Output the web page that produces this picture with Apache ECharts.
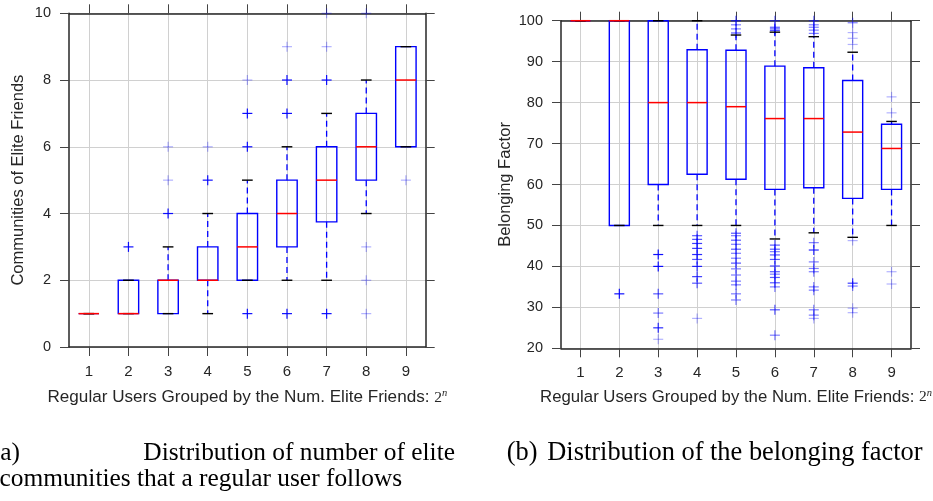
<!DOCTYPE html>
<html>
<head>
<meta charset="utf-8">
<script src="https://cdn.jsdelivr.net/npm/echarts@6/dist/echarts.min.js"></script>
<style>
html,body{margin:0;padding:0;background:#fff;}
#c{width:933px;height:501px;}
</style>
</head>
<body>
<div id="c"></div>
<script>
// ---------- DATA ----------
const categories = ['1','2','3','4','5','6','7','8','9'];

// (a) communities of elite friends: five-number summaries per group
const commLow  = [1, 1, 1, 1, 2, 2, 2,    4, 6];
const commQ1   = [1, 1, 1, 2, 2, 3, 3.75, 5, 6];
const commMed  = [1, 1, 2, 2, 3, 4, 5,    6, 8];
const commQ3   = [1, 2, 2, 3, 4, 5, 6,    7, 9];
const commHigh = [1, 2, 3, 4, 5, 6, 7,    8, 9];
// outliers: [group, value, overlap count]
const commOutliers = [
  [2, 3, 8],
  [3, 4, 8], [3, 5, 1], [3, 6, 1],
  [4, 5, 8], [4, 6, 1],
  [5, 1, 8], [5, 6, 8], [5, 7, 8], [5, 8, 1],
  [6, 1, 8], [6, 7, 8], [6, 8, 8], [6, 9, 1],
  [7, 1, 8], [7, 8, 8], [7, 9, 1], [7, 10, 1],
  [8, 1, 1], [8, 2, 1], [8, 3, 1], [8, 10, 1],
  [9, 5, 1]
];

// (b) belonging factor: five-number summaries per group
const bfLow  = [100, 50,  50,  50,   50,   46.7, 48.2, 47.1, 50];
const bfQ1   = [100, 50,  60,  62.5, 61.3, 58.8, 59.2, 56.6, 58.8];
const bfMed  = [100, 100, 80,  80,   79,   76.1, 76.1, 72.8, 68.8];
const bfQ3   = [100, 100, 100, 92.9, 92.8, 88.9, 88.5, 85.4, 74.7];
const bfHigh = [100, 100, 100, 100,  96.5, 97.2, 96.1, 92.3, 75.4];
const bfOutliers = [
  [2, 33.3, 8],
  [3, 42.9, 8], [3, 40, 8], [3, 33.3, 3], [3, 28.6, 2], [3, 25, 5], [3, 22.2, 1],
  [4, 47.5, 3], [4, 46.6, 3], [4, 45.6, 4], [4, 44.4, 4], [4, 42.9, 5], [4, 41.7, 3],
  [4, 40, 5], [4, 37.5, 4], [4, 35.9, 3], [4, 27.3, 1],
  [5, 100, 3], [5, 99, 2], [5, 98, 2], [5, 97, 3],
  [5, 48.1, 3], [5, 47.5, 2], [5, 46.4, 3], [5, 45.4, 2], [5, 44.2, 3], [5, 43.2, 2],
  [5, 42, 2], [5, 40.8, 3], [5, 39.4, 2], [5, 37.9, 2], [5, 36.4, 2], [5, 35.5, 2],
  [5, 33.3, 2], [5, 31.8, 2],
  [6, 100, 2], [6, 98.4, 3], [6, 98, 3], [6, 97.6, 3],
  [6, 45.2, 3], [6, 44.2, 3], [6, 43.6, 2], [6, 42.8, 3], [6, 41.7, 3], [6, 40.1, 3],
  [6, 38.7, 3], [6, 38.1, 2], [6, 37.3, 3], [6, 36, 3], [6, 35, 2], [6, 29.4, 3], [6, 23.2, 2],
  [7, 100, 2], [7, 99, 2], [7, 98.4, 2], [7, 97.7, 2], [7, 96.9, 2],
  [7, 45.8, 2], [7, 44, 5], [7, 41.1, 2], [7, 39.5, 2], [7, 38.7, 2], [7, 35, 2],
  [7, 34.2, 2], [7, 29.4, 2], [7, 28.1, 2], [7, 27.3, 1],
  [8, 99.5, 2], [8, 97.1, 1], [8, 95.7, 1], [8, 94.2, 1],
  [8, 46.3, 1], [8, 35.9, 4], [8, 35.2, 2], [8, 29.8, 1], [8, 28.7, 1],
  [9, 81.4, 1], [9, 77.5, 1], [9, 38.7, 1], [9, 35.7, 1]
];

const xName = 'Regular Users Grouped by the Num. Elite Friends: ';
const yNameA = 'Communities of Elite Friends';
const yNameB = 'Belonging Factor';
const captionA1 = '(a)';
const captionA2 = 'Distribution of number of elite';
const captionA3 = 'communities that a regular user follows';
const captionB1 = '(b)';
const captionB2 = 'Distribution of the belonging factor';

// ---------- BUILD ----------
const SANS = '"Liberation Sans", Arial, Helvetica, sans-serif';
const SERIF = '"Liberation Serif", "Times New Roman", serif';
const TXT = '#262626';
const tickVals = categories.map((c, i) => i + 1);

function boxRows(lo, q1, med, q3, hi) {
  return categories.map((c, i) => [i + 1, lo[i], q1[i], med[i], q3[i], hi[i]]);
}

function mkX(gi, pos, main, gap, fs) {
  return {
    type: 'value', gridIndex: gi, position: pos, min: 0.5, max: 9.5,
    axisLine: { show: true, onZero: false, lineStyle: { color: TXT, width: 1.5 } },
    axisTick: { show: true, inside: false, length: 9, customValues: tickVals,
      lineStyle: { color: '#444', width: 1 } },
    axisLabel: { show: main, customValues: tickVals, margin: 17,
      formatter: v => categories[Math.round(v) - 1],
      fontSize: 15, fontFamily: SANS, color: TXT },
    splitLine: { show: main, lineStyle: { color: '#d0d0d0', width: 1 } },
    name: main ? '{t|' + xName + '}{m|2}{s|n}' : '',
    nameLocation: 'middle', nameGap: gap || 40,
    nameTextStyle: {
      rich: {
        t: { fontFamily: SANS, fontSize: fs || 17, color: TXT, lineHeight: 19 },
        m: { fontFamily: SERIF, fontSize: 15.5, color: TXT, lineHeight: 19 },
        s: { fontFamily: SERIF, fontStyle: 'italic', fontSize: 10.5, color: TXT, verticalAlign: 'top', lineHeight: 12 }
      }
    }
  };
}

function mkY(gi, pos, main, min, max, interval, name, gap) {
  return {
    type: 'value', gridIndex: gi, position: pos, min: min, max: max, interval: interval,
    axisLine: { show: true, onZero: false, lineStyle: { color: TXT, width: 1.5 } },
    axisTick: { show: true, inside: false, length: 9, lineStyle: { color: '#444', width: 1 } },
    axisLabel: { show: main, margin: 18, fontSize: 14.5, fontFamily: SANS, color: TXT },
    splitLine: { show: main, lineStyle: { color: '#d0d0d0', width: 1 } },
    name: main ? name : '', nameLocation: 'middle', nameGap: gap,
    nameTextStyle: { fontFamily: SANS, fontSize: 16.5, color: TXT }
  };
}

function renderBox(params, api) {
  const x = api.value(0);
  const bw = api.size([1, 0])[0];
  const w = bw * 0.515, cw = bw * 0.27;
  const pl = api.coord([x, api.value(1)]);
  const p1 = api.coord([x, api.value(2)]);
  const pm = api.coord([x, api.value(3)]);
  const p3 = api.coord([x, api.value(4)]);
  const ph = api.coord([x, api.value(5)]);
  const cx = pl[0];
  const blue = { stroke: '#0000ff', lineWidth: 1.4, fill: null };
  const dash = { stroke: '#0000ff', lineWidth: 1.3, lineDash: [6, 4] };
  const cap = { stroke: '#000000', lineWidth: 1.4 };
  return {
    type: 'group',
    children: [
      { type: 'line', shape: { x1: cx, y1: p3[1], x2: cx, y2: ph[1] }, style: dash },
      { type: 'line', shape: { x1: cx, y1: p1[1], x2: cx, y2: pl[1] }, style: dash },
      { type: 'rect', shape: { x: cx - w / 2, y: p3[1], width: w, height: p1[1] - p3[1] }, style: blue },
      { type: 'line', shape: { x1: cx - cw / 2, y1: ph[1], x2: cx + cw / 2, y2: ph[1] }, style: cap },
      { type: 'line', shape: { x1: cx - cw / 2, y1: pl[1], x2: cx + cw / 2, y2: pl[1] }, style: cap },
      { type: 'line', shape: { x1: cx - w / 2, y1: pm[1], x2: cx + w / 2, y2: pm[1] }, style: { stroke: '#ff0000', lineWidth: 1.5 } }
    ]
  };
}

function renderOut(params, api) {
  const p = api.coord([api.value(0), api.value(1)]);
  const n = api.value(2);
  const op = 1 - Math.pow(0.7, n);
  const h = 5;
  const st = { stroke: '#0000ff', lineWidth: 1.2, opacity: op };
  return {
    type: 'group',
    children: [
      { type: 'line', shape: { x1: p[0] - h, y1: p[1], x2: p[0] + h, y2: p[1] }, style: st },
      { type: 'line', shape: { x1: p[0], y1: p[1] - h, x2: p[0], y2: p[1] + h }, style: st }
    ]
  };
}

const chart = echarts.init(document.getElementById('c'), null, { renderer: 'canvas' });
const capA = '25.4px ' + SERIF;
const capB = '26.4px ' + SERIF;
const option = {
  animation: false,
  backgroundColor: '#ffffff',
  grid: [
    { left: 69, top: 13.3, width: 356.7, height: 333.7, containLabel: false, outerBoundsMode: 'none' },
    { left: 561, top: 20.7, width: 350, height: 327.6, containLabel: false, outerBoundsMode: 'none' }
  ],
  xAxis: [mkX(0, 'bottom', true, 41, 17.1), mkX(0, 'top', false), mkX(1, 'bottom', true, 39.5, 16.75), mkX(1, 'top', false)],
  yAxis: [
    mkY(0, 'left', true, 0, 10, 2, yNameA, 42),
    mkY(0, 'right', false, 0, 10, 2, '', 0),
    mkY(1, 'left', true, 20, 100, 10, yNameB, 47),
    mkY(1, 'right', false, 20, 100, 10, '', 0)
  ],
  series: [
    { type: 'custom', xAxisIndex: 0, yAxisIndex: 0, renderItem: renderOut, clip: false,
      data: commOutliers, encode: { x: 0, y: 1 }, z: 3 },
    { type: 'custom', xAxisIndex: 0, yAxisIndex: 0, renderItem: renderBox, clip: false,
      data: boxRows(commLow, commQ1, commMed, commQ3, commHigh), encode: { x: 0, y: [1, 2, 3, 4, 5] }, z: 4 },
    { type: 'custom', xAxisIndex: 2, yAxisIndex: 2, renderItem: renderOut, clip: false,
      data: bfOutliers, encode: { x: 0, y: 1 }, z: 3 },
    { type: 'custom', xAxisIndex: 2, yAxisIndex: 2, renderItem: renderBox, clip: false,
      data: boxRows(bfLow, bfQ1, bfMed, bfQ3, bfHigh), encode: { x: 0, y: [1, 2, 3, 4, 5] }, z: 4 }
  ],
  graphic: [
    { type: 'text', x: -8.3, y: 441, style: { text: captionA1, font: capA, fill: '#000', verticalAlign: 'top' } },
    { type: 'text', x: 143.3, y: 441, style: { text: captionA2, font: capA, fill: '#000', verticalAlign: 'top' } },
    { type: 'text', x: -0.5, y: 466.7, style: { text: captionA3, font: capA, fill: '#000', verticalAlign: 'top' } },
    { type: 'text', x: 506.7, y: 440.5, style: { text: captionB1, font: capB, fill: '#000', verticalAlign: 'top' } },
    { type: 'text', x: 547.3, y: 440.5, style: { text: captionB2, font: capB, fill: '#000', verticalAlign: 'top' } }
  ]
};
chart.setOption(option);
</script>
</body>
</html>
